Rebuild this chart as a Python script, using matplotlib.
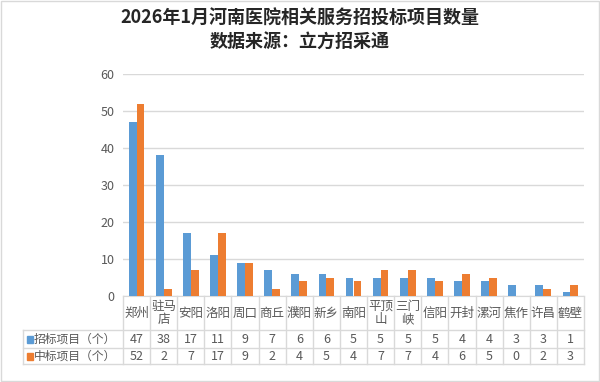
import matplotlib
matplotlib.use('Agg')
import matplotlib.pyplot as plt
import matplotlib.transforms as mtrans
from matplotlib.patches import Rectangle
import numpy as np

plt.rcParams['font.family'] = ['Noto Sans CJK SC', 'DejaVu Sans']

# data
cities = ['郑州', '驻马\n店', '安阳', '洛阳', '周口', '商丘', '濮阳', '新乡', '南阳',
          '平顶\n山', '三门\n峡', '信阳', '开封', '漯河', '焦作', '许昌', '鹤壁']
bid = [47, 38, 17, 11, 9, 7, 6, 6, 5, 5, 5, 5, 4, 4, 3, 3, 1]
win = [52, 2, 7, 17, 9, 2, 4, 5, 4, 7, 7, 4, 6, 5, 0, 2, 3]
series_names = ['招标项目（个）', '中标项目（个）']
title = '2026年1月河南医院相关服务招投标项目数量\n数据来源：立方招采通'

blue = '#5B9BD5'
orange = '#ED7D31'
grid = '#D9D9D9'
txt = '#595959'

W, H = 600, 382
fig = plt.figure(figsize=(6, 3.82), dpi=100)

# overlay in pixel coords (y downward) for table/border
ov = fig.add_axes([0, 0, 1, 1])
ov.set_xlim(0, W)
ov.set_ylim(H, 0)
ov.axis('off')
ov.add_patch(Rectangle((0.5, 0.5), W - 1.5, H - 1.5, fill=False, ec=grid, lw=1))

left, right, top, bottom = 123, 584, 74, 296
ax = fig.add_axes([left / W, 1 - bottom / H, (right - left) / W, (bottom - top) / H])
x = np.arange(len(cities))
bw = 0.29
ax.bar(x - bw / 2, bid, bw, color=blue, zorder=3)
ax.bar(x + bw / 2, win, bw, color=orange, zorder=3)
ax.set_xlim(-0.5, len(cities) - 0.5)
ax.set_ylim(0, 60)
ax.set_yticks(range(0, 61, 10))
ax.yaxis.grid(True, color=grid, lw=1, zorder=0)
ax.tick_params(axis='y', length=0, pad=6, labelsize=9, labelcolor=txt)
ax.set_xticks([])
for s in ['left', 'right', 'top']:
    ax.spines[s].set_visible(False)
ax.spines['bottom'].set_color(grid)
ax.patch.set_alpha(0)

fig.text(0.5, 1 - 30 / H, title, ha='center', va='center', fontsize=13,
         fontweight='bold', color='#262626', linespacing=1.3)

# data table below the axis
tr = mtrans.blended_transform_factory(ax.transData, ov.transData)
r0, r1, r2, r3 = bottom, 330, 348, 364
edges = np.arange(len(cities) + 1) - 0.5
for e in edges:
    ov.plot([e, e], [r0, r3], color=grid, lw=1, transform=tr, clip_on=False)
ov.plot([23, 23], [r1, r3], color=grid, lw=1)
for r in (r1, r2, r3):
    ov.plot([23, right], [r, r], color=grid, lw=1)

for i, c in enumerate(cities):
    ov.text(i, (r0 + r1) / 2, c, transform=tr, ha='center', va='center',
            fontsize=9, color=txt, linespacing=1.0)
    ov.text(i, (r1 + r2) / 2 + 0.5, str(bid[i]), transform=tr, ha='center', va='center',
            fontsize=9, color=txt)
    ov.text(i, (r2 + r3) / 2 + 0.5, str(win[i]), transform=tr, ha='center', va='center',
            fontsize=9, color=txt)

for (r_a, r_b), name, col in zip([(r1, r2), (r2, r3)], series_names, [blue, orange]):
    ym = (r_a + r_b) / 2
    ov.add_patch(Rectangle((27, ym - 3.5), 6, 7, color=col))
    ov.text(34, ym + 0.5, name, ha='left', va='center', fontsize=8.5, color=txt)

fig.savefig('out.png', dpi=100)
